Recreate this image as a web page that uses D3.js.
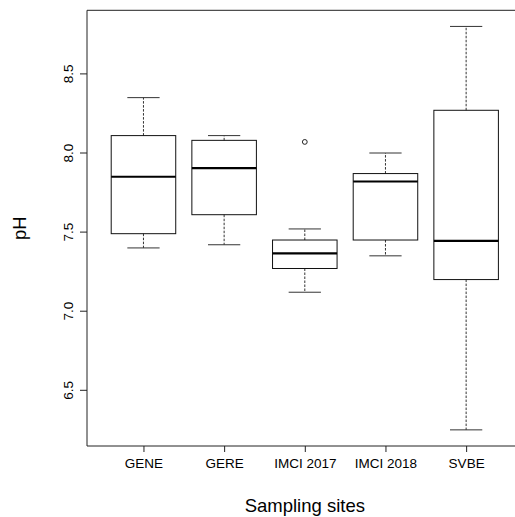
<!DOCTYPE html>
<html>
<head>
<meta charset="utf-8">
<script src="https://cdn.jsdelivr.net/npm/d3@7"></script>
<style>
  body { margin: 0; background: #fff; overflow: hidden; }
  svg { display: block; overflow: hidden; font-family: "Liberation Sans", Arial, sans-serif; }
</style>
</head>
<body>
<div id="chart"></div>
<script>
// pH by sampling site
let sites = ['GENE', 'GERE', 'IMCI 2017', 'IMCI 2018', 'SVBE'];
let lowWhisker = [7.40, 7.42, 7.12, 7.35, 6.25];
let q1 = [7.49, 7.61, 7.27, 7.45, 7.20];
let median = [7.85, 7.905, 7.365, 7.82, 7.445];
let q3 = [8.11, 8.08, 7.45, 7.87, 8.27];
let highWhisker = [8.35, 8.11, 7.52, 8.00, 8.80];
let outliers = [[], [], [8.07], [], []];
let yTicks = [6.5, 7.0, 7.5, 8.0, 8.5];

let width = 515,
	height = 517,
	plotLeft = 87,
	plotRight = 522.6,
	plotTop = 10.3,
	plotBottom = 446;

let rows = sites.map((s, i) => ({
	site: s, i: i + 1,
	lo: lowWhisker[i], q1: q1[i], med: median[i], q3: q3[i], hi: highWhisker[i],
	out: outliers[i]
}));

let xScale = d3.scaleLinear()
	.domain([0.3, sites.length + 0.7])
	.range([plotLeft, plotRight]);

let yScale = d3.scaleLinear()
	.domain([6.148, 8.902])
	.range([plotBottom, plotTop]);

let boxW = (xScale(1) - xScale(0)) * 0.8;

let svg = d3.select('#chart').append('svg')
	.attr('width', width)
	.attr('height', height);

// boxes
let g = svg.selectAll('g.box')
	.data(rows)
	.enter().append('g')
	.attr('class', 'box');

// whiskers (dashed)
g.append('line')
	.attr('x1', d => xScale(d.i)).attr('x2', d => xScale(d.i))
	.attr('y1', d => yScale(d.q3)).attr('y2', d => yScale(d.hi))
	.attr('stroke', '#333').attr('stroke-dasharray', '2.5,1.5');
g.append('line')
	.attr('x1', d => xScale(d.i)).attr('x2', d => xScale(d.i))
	.attr('y1', d => yScale(d.q1)).attr('y2', d => yScale(d.lo))
	.attr('stroke', '#333').attr('stroke-dasharray', '2.5,1.5');

// caps
g.append('line')
	.attr('x1', d => xScale(d.i) - boxW / 4).attr('x2', d => xScale(d.i) + boxW / 4)
	.attr('y1', d => yScale(d.hi)).attr('y2', d => yScale(d.hi))
	.attr('stroke', '#333');
g.append('line')
	.attr('x1', d => xScale(d.i) - boxW / 4).attr('x2', d => xScale(d.i) + boxW / 4)
	.attr('y1', d => yScale(d.lo)).attr('y2', d => yScale(d.lo))
	.attr('stroke', '#333');

g.append('rect')
	.attr('x', d => xScale(d.i) - boxW / 2)
	.attr('width', boxW)
	.attr('y', d => yScale(d.q3))
	.attr('height', d => yScale(d.q1) - yScale(d.q3))
	.attr('fill', 'none')
	.attr('stroke', '#111');

g.append('line')
	.attr('x1', d => xScale(d.i) - boxW / 2).attr('x2', d => xScale(d.i) + boxW / 2)
	.attr('y1', d => yScale(d.med)).attr('y2', d => yScale(d.med))
	.attr('stroke', '#000').attr('stroke-width', 2.2);

g.selectAll('circle')
	.data(d => d.out.map(v => ({ i: d.i, v: v })))
	.enter().append('circle')
	.attr('cx', d => xScale(d.i))
	.attr('cy', d => yScale(d.v))
	.attr('r', 2.4)
	.attr('fill', 'none')
	.attr('stroke', '#222');

// frame: the right side falls outside the picture
svg.append('path')
	.attr('d', 'M' + width + ',' + plotTop + 'H' + plotLeft + 'V' + plotBottom + 'H' + width)
	.attr('fill', 'none').attr('stroke', '#222');

// y axis
let yAxis = svg.append('g')
	.attr('transform', 'translate(' + plotLeft + ',0)')
	.call(d3.axisLeft(yScale).tickValues(yTicks).tickFormat(d3.format('.1f')).tickSize(7).tickSizeOuter(0));
yAxis.select('.domain').remove();
yAxis.selectAll('line').attr('stroke', '#222');
yAxis.selectAll('.tick').attr('transform', null);
yAxis.selectAll('.tick line')
	.attr('y1', d => yScale(d)).attr('y2', d => yScale(d));
yAxis.selectAll('text')
	.attr('transform', d => 'translate(-14,' + yScale(d) + ') rotate(-90)')
	.attr('x', 0).attr('y', 0).attr('dy', 0)
	.attr('text-anchor', 'middle')
	.style('font-size', '13.5px')
	.attr('fill', '#000');

// x axis
let xAxis = svg.append('g')
	.attr('transform', 'translate(0,' + plotBottom + ')')
	.call(d3.axisBottom(xScale).tickValues(d3.range(1, sites.length + 1))
		.tickFormat(i => sites[i - 1]).tickSize(6).tickSizeOuter(0));
xAxis.select('.domain').remove();
xAxis.selectAll('line').attr('stroke', '#222');
xAxis.selectAll('text')
	.attr('y', 21.5).attr('dy', 0)
	.style('font-size', '13.5px')
	.attr('fill', '#000');

// axis titles
svg.append('text')
	.attr('x', (plotLeft + plotRight) / 2)
	.attr('y', 511.5)
	.attr('text-anchor', 'middle')
	.style('font-size', '18.5px')
	.text('Sampling sites');

svg.append('text')
	.attr('transform', 'translate(26,' + (plotTop + plotBottom) / 2 + ') rotate(-90)')
	.attr('text-anchor', 'middle')
	.style('font-size', '18.5px')
	.text('pH');
</script>
</body>
</html>
